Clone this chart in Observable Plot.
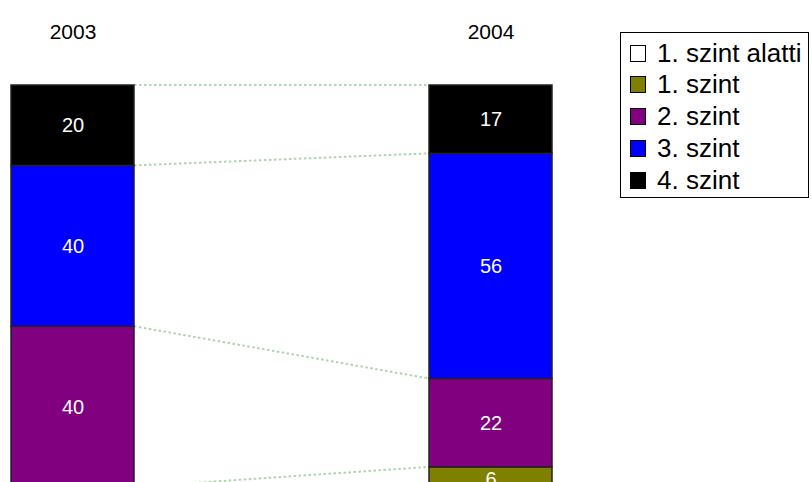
<!DOCTYPE html>
<html><head><meta charset="utf-8">
<script src="https://cdn.jsdelivr.net/npm/d3@7"></script>
<script src="https://cdn.jsdelivr.net/npm/@observablehq/plot@0.6"></script>
<style>
body{margin:0;background:#fff;font-family:"Liberation Sans",Arial,sans-serif;}
#wrap{position:relative;width:812px;height:482px;overflow:hidden;}
#legend{position:absolute;left:620px;top:32px;width:187px;height:164px;border:1.5px solid #000;background:#fff;box-sizing:content-box;}
.item{position:absolute;left:9px;height:32px;display:flex;align-items:center;font-size:26px;color:#000;white-space:nowrap;}
.sw{width:14px;height:15px;border:1.5px solid #000;margin-right:11px;}
</style></head><body><div id="wrap"></div>
<script>
const years = ["2003", "2004"];
const levels = ["1. szint alatti", "1. szint", "2. szint", "3. szint", "4. szint"];
const values2003 = [0, 0, 40, 40, 20];
const values2004 = [0, 6, 22, 56, 17];
const levelColors = ["#ffffff", "#808000", "#800080", "#0000ff", "#000000"];
const stackOrder = ["4. szint", "3. szint", "2. szint", "1. szint", "1. szint alatti"];

const seriesByYear = {"2003": values2003, "2004": values2004};
const table = [];
years.forEach(yr => levels.forEach((lv, j) => table.push({year: yr, level: lv, value: seriesByYear[yr][j]})));
const shown = table.filter(d => d.value > 0);

// top of each level's segment in each year (cumulative from the top of the stack)
const tops = levels.filter(lv => years.some(yr => seriesByYear[yr][levels.indexOf(lv)] > 0)).map(lv => {
  const above = stackOrder.slice(0, stackOrder.indexOf(lv));
  const t = {};
  years.forEach(yr => { t[yr] = d3.sum(above, a => seriesByYear[yr][levels.indexOf(a)]); });
  return t;
});

function connectors(index, scales) {
  const x = scales.x, y = scales.y;
  const bw = typeof x.bandwidth === "function" ? x.bandwidth() : x.bandwidth;
  const g = d3.create("svg:g");
  for (let i = 0; i < years.length - 1; i++) {
    const a = years[i], b = years[i + 1];
    tops.forEach(t => {
      g.append("line")
        .attr("x1", x(a) + bw).attr("x2", x(b))
        .attr("y1", y(t[a])).attr("y2", y(t[b]))
        .attr("stroke", "#acd6ac").attr("stroke-width", 2)
        .attr("stroke-dasharray", "2.5,2.5");
    });
  }
  return g.node();
}

const chart = Plot.plot({
  width: 812,
  height: 482,
  marginTop: 85,
  marginBottom: 0,
  marginLeft: 0,
  marginRight: 0,
  style: {fontFamily: "'Liberation Sans', Arial, sans-serif", background: "#fff", overflow: "hidden"},
  x: {type: "band", domain: years, range: [10, 552], paddingInner: 0.7064, paddingOuter: 0, axis: null},
  y: {domain: [0, 100], range: [85, 487], axis: null},
  color: {domain: levels, range: levelColors},
  marks: [
    connectors,
    Plot.barY(shown, Plot.stackY({x: "year", y: "value", fill: "level", z: "level", order: stackOrder, stroke: "#222", strokeWidth: 1.5})),
    Plot.text(shown, Plot.stackY({x: "year", y: "value", z: "level", order: stackOrder, text: d => String(d.value), fill: "#fff", fontSize: 20})),
    Plot.text(years, {x: d => d, text: d => d, frameAnchor: "top", dy: -61, fontSize: 21, fill: "#000"})
  ]
});
const wrap = document.getElementById("wrap");
wrap.appendChild(chart);

const legend = document.createElement("div");
legend.id = "legend";
levels.forEach((lv, i) => {
  const it = document.createElement("div");
  it.className = "item";
  it.style.top = (4 + i * 31.8) + "px";
  const sw = document.createElement("span");
  sw.className = "sw";
  sw.style.background = levelColors[i];
  const tx = document.createElement("span");
  tx.textContent = lv;
  it.appendChild(sw); it.appendChild(tx);
  legend.appendChild(it);
});
wrap.appendChild(legend);
</script></body></html>
